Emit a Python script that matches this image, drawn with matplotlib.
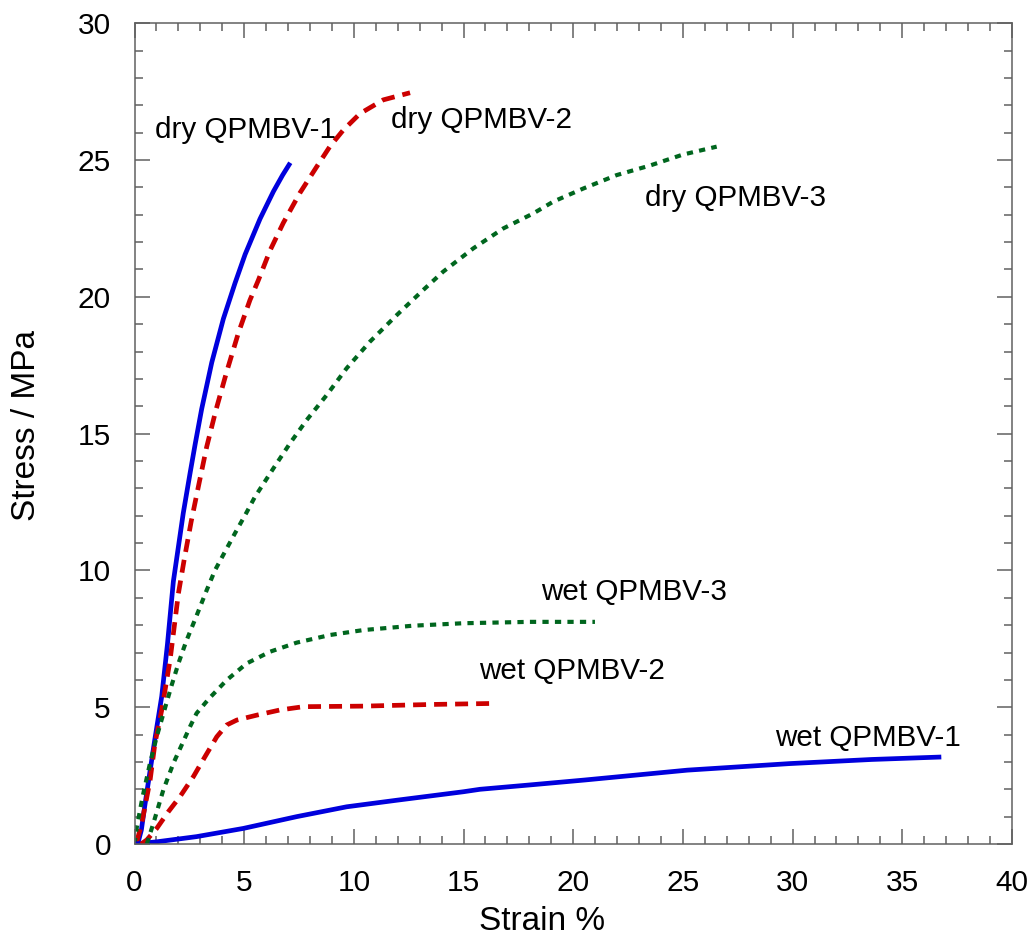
import matplotlib

matplotlib.use("Agg")
import matplotlib.pyplot as plt
from matplotlib.ticker import MultipleLocator

plt.rcParams["font.family"] = ["Liberation Sans", "DejaVu Sans"]

BLUE = "#0000DD"
RED = "#CC0000"
GREEN = "#00661E"
AXIS = "#606060"

# dry samples
dry1_x = [0.05, 0.17, 0.31, 0.46, 0.69, 0.92, 1.24, 1.5, 1.77, 2.0, 2.22, 2.53,
          2.76, 3.06, 3.52, 4.05, 4.58, 5.04, 5.72, 6.33, 6.75, 7.1]
dry1_y = [0.0, 0.08, 0.51, 1.36, 2.58, 3.8, 5.4, 7.3, 9.6, 10.87, 12.09, 13.55,
          14.6, 15.9, 17.6, 19.2, 20.5, 21.55, 22.85, 23.85, 24.45, 24.9]

dry2_x = [0.1, 0.33, 0.71, 0.93, 1.24, 1.62, 2.0, 2.26, 2.58, 2.94, 3.29, 3.71,
          4.2, 4.73, 5.26, 5.64, 6.18, 6.78, 7.54, 8.3, 8.91, 9.52, 10.28, 11.34, 12.56]
dry2_y = [0.08, 0.76, 2.34, 3.68, 4.9, 6.73, 9.16, 10.38, 11.78, 13.18, 14.52, 15.86,
          17.26, 18.67, 19.88, 20.6, 21.7, 22.7, 23.8, 24.75, 25.5, 26.1, 26.7, 27.2, 27.46]

dry3_x = [0.0, 0.1, 0.36, 0.69, 1.01, 1.4, 1.69, 2.0, 2.35, 2.83, 3.29, 3.67, 4.12,
          4.58, 5.04, 5.49, 6.33, 7.09, 7.85, 8.76, 9.67, 10.73, 11.95, 13.16, 14.07,
          15.44, 16.81, 18.18, 19.09, 20.46, 21.98, 23.5, 25.0, 26.54]
dry3_y = [0.0, 0.6, 1.7, 2.9, 3.92, 5.0, 5.8, 6.6, 7.4, 8.35, 9.28, 10.01, 10.68,
          11.36, 12.02, 12.69, 13.73, 14.65, 15.5, 16.41, 17.39, 18.36, 19.33, 20.25,
          20.92, 21.77, 22.5, 23.05, 23.48, 23.96, 24.45, 24.8, 25.2, 25.49]

# wet samples
wet1_x = [0.0, 1.01, 2.83, 4.96, 7.39, 9.67, 11.95, 14.99, 15.75, 18.03, 20.53,
          25.2, 29.88, 33.6, 36.78]
wet1_y = [0.0, 0.08, 0.27, 0.57, 1.0, 1.36, 1.6, 1.91, 2.0, 2.16, 2.34, 2.7,
          2.94, 3.09, 3.18]

wet2_x = [0.3, 0.56, 1.01, 1.54, 2.07, 2.68, 3.21, 3.75, 4.2, 4.66, 5.57, 6.63,
          7.7, 10.43, 13.47, 16.51]
wet2_y = [0.0, 0.15, 0.57, 1.18, 1.73, 2.46, 3.19, 3.92, 4.35, 4.53, 4.71, 4.9,
          5.02, 5.04, 5.1, 5.14]

wet3_x = [0.56, 0.86, 1.31, 1.77, 2.53, 2.83, 3.4, 4.2, 5.11, 6.18, 7.39, 8.91,
          10.43, 12.7, 14.99, 18.0, 20.99]
wet3_y = [0.0, 0.76, 1.97, 2.95, 4.29, 4.78, 5.32, 5.99, 6.6, 7.03, 7.36, 7.64,
          7.82, 7.98, 8.07, 8.12, 8.12]

labels = ["dry QPMBV-1", "dry QPMBV-2", "dry QPMBV-3",
          "wet QPMBV-1", "wet QPMBV-2", "wet QPMBV-3"]
label_x = [0.93, 11.69, 23.27, 29.22, 15.72, 18.51]
label_y = [25.8, 26.17, 23.33, 3.59, 6.03, 8.92]

fig = plt.figure(figsize=(10.31, 9.38), dpi=100)
ax = fig.add_axes([0.1305, 0.1002, 0.851, 0.875])

solid = dict(color=BLUE, lw=3.4, solid_capstyle="butt")
dashed = dict(color=RED, lw=3.4, dashes=(2.75, 1.7))
dotted = dict(color=GREEN, lw=3.0, dashes=(1.5, 1.5))

ax.plot(dry1_x, dry1_y, **solid)
ax.plot(dry2_x, dry2_y, **dashed)
ax.plot(dry3_x, dry3_y, **dotted)
ax.plot(wet1_x, wet1_y, **solid)
ax.plot(wet2_x, wet2_y, **dashed)
ax.plot(wet3_x, wet3_y, **dotted)

for t, x, y in zip(labels, label_x, label_y):
    ax.text(x, y, t, fontsize=21.3, va="baseline", ha="left")

ax.set_xlim(0, 40)
ax.set_ylim(0, 30)
ax.xaxis.set_major_locator(MultipleLocator(5))
ax.xaxis.set_minor_locator(MultipleLocator(1))
ax.yaxis.set_major_locator(MultipleLocator(5))
ax.yaxis.set_minor_locator(MultipleLocator(1))
ax.tick_params(which="both", direction="in", top=True, right=True,
               color=AXIS, width=1.1, labelsize=21.5)
ax.tick_params(which="major", length=11)
ax.tick_params(which="minor", length=5.5)
ax.tick_params(axis="x", which="major", pad=18)
ax.tick_params(axis="y", which="major", pad=17)
for s in ax.spines.values():
    s.set_color(AXIS)
    s.set_linewidth(1.1)

ax.set_xlabel("Strain %", fontsize=24)
ax.set_ylabel("Stress / MPa", fontsize=24)
ax.xaxis.set_label_coords(0.465, -0.076)
ax.yaxis.set_label_coords(-0.105, 0.51)

fig.savefig("out.png", dpi=100)
